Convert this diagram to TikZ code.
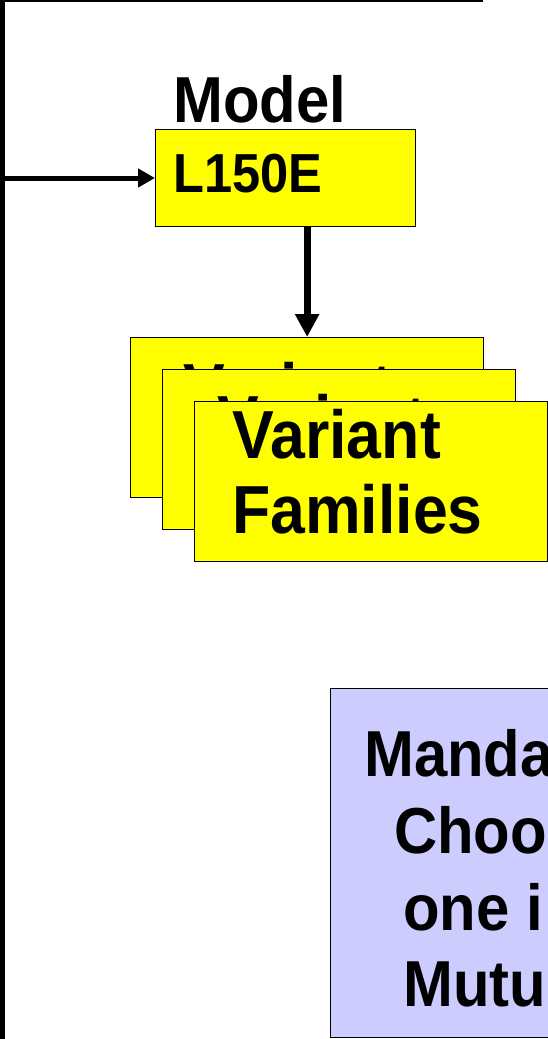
\documentclass[tikz,border=0pt]{standalone}
\usepackage{fontspec}
\setmainfont{Liberation Sans}[FakeStretch=0.92]
\usetikzlibrary{arrows.meta,positioning}
\definecolor{lilac}{RGB}{204,204,255}
\definecolor{famyellow}{RGB}{255,255,0}
\tikzstyle{block}=[draw=black,line width=1.3pt,fill=famyellow,inner sep=0pt,anchor=north west]
\tikzstyle{famblock}=[block,minimum width=353pt,minimum height=160pt]
\tikzstyle{rulebox}=[block,fill=lilac,minimum width=400pt,minimum height=349pt]
\tikzstyle{big}=[inner sep=0pt,anchor=base west,font=\bfseries\fontsize{65}{76}\selectfont]
\tikzstyle{fam}=[big,align=left,font=\bfseries\fontsize{68}{75}\selectfont]
\tikzstyle{link}=[line width=5pt,-{Triangle[length=17pt,width=18pt]}]

\begin{document}
\begin{tikzpicture}[x=1pt,y=-1pt]
          \useasboundingbox (0,0) rectangle (548,1039);
          \coordinate (S) at (2.7,-10);
          \coordinate (T) at (2.7,1050);

          % block above, only its lower edge shows
          \node[block,anchor=south east,minimum width=600pt,minimum height=100pt,line width=2pt] (top) at (482.5,1.5) {};
          \draw[line width=5.5pt] (S)--(T);

          % model
          \node[big] (modellbl) at (173,122) {Model};
          \node[block,minimum width=260pt,minimum height=96.7pt] (model) at (155,129) {};
          \node[big,font=\bfseries\fontsize{55}{60}\selectfont] (modelid) at (173,192) {L150E};
          \draw[link] (S |- model.west) -- (model.west);

          % stacked variant families (base = last line)
          \node[famblock] (famA) at (130,337) {};
          \node[fam] (famAtxt) at (183,486) {Variant\\Families};
          \node[famblock] (famB) at (162,369) {};
          \node[fam] (famBtxt) at (217,518) {Variant\\Families};
          \node[famblock] (famC) at (194,401) {};
          \node[fam] (famCtxt) at (232,533) {Variant\\Families};
          \draw[link,line width=7pt,-{Triangle[length=23pt,width=23pt]}] (famA.north |- model.south) -- (famA.north);

          % rule
          \node[rulebox] (rule) at (330,688) {};
          \foreach \x/\y/\t [count=\i] in {364/776/Manda,394/853/Choo,403/930/one i,403/1006/Mutu}
            \node[big] (rule\i) at (\x,\y) {\t};
\end{tikzpicture}
\end{document}
